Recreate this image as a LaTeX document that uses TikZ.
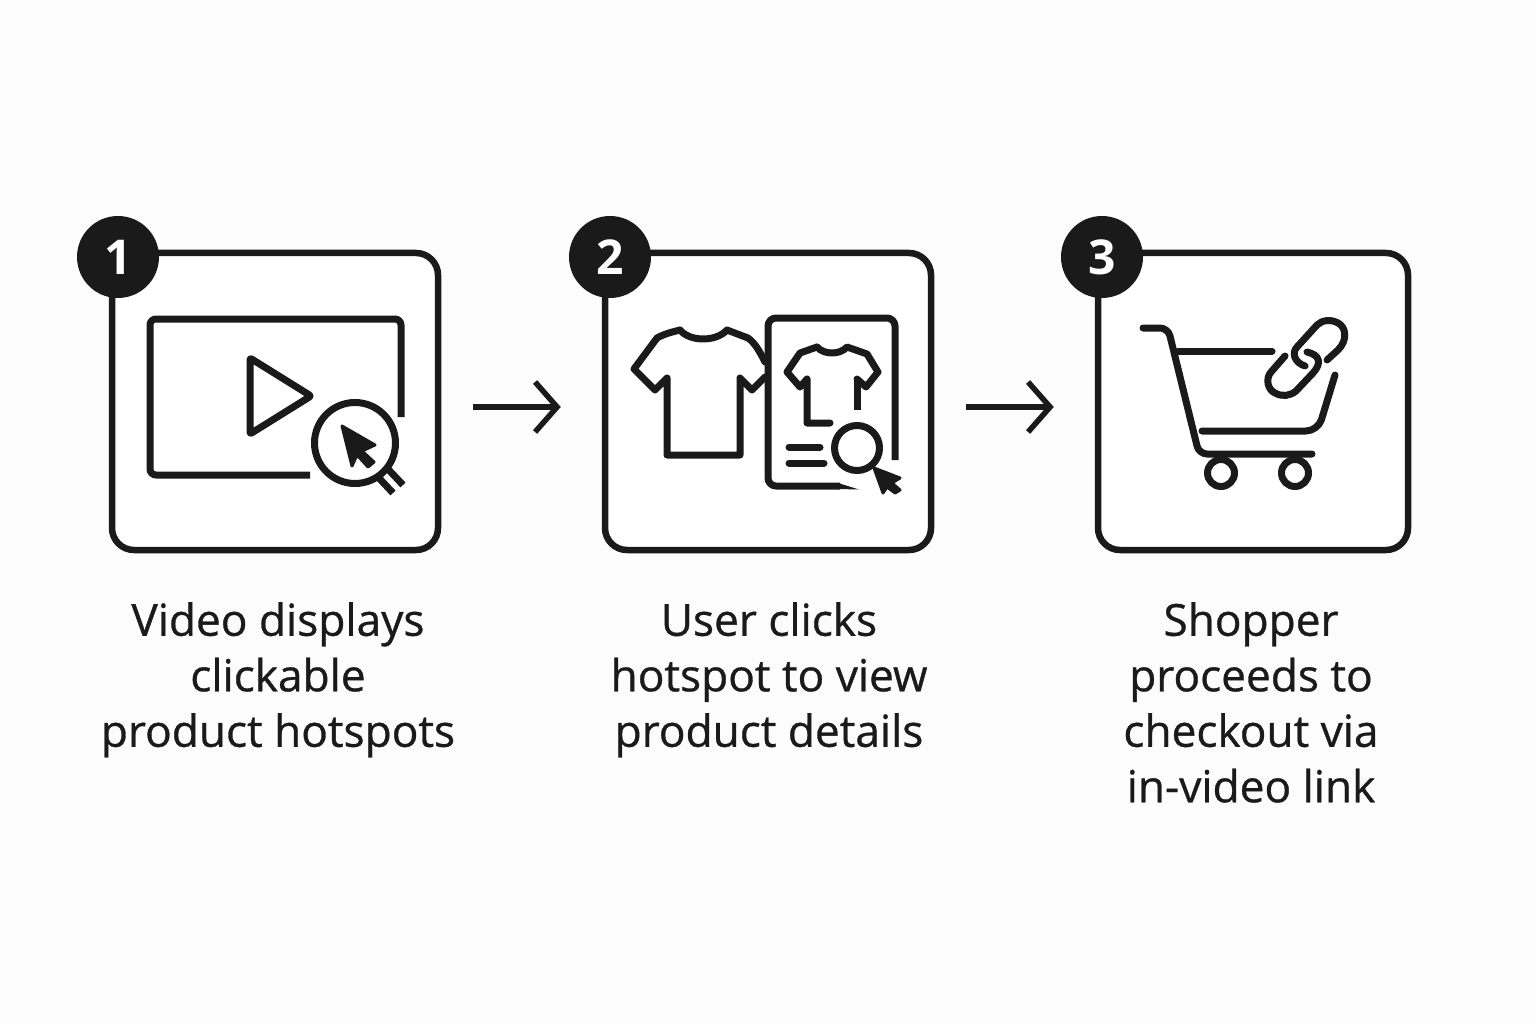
\documentclass[tikz,border=0pt]{standalone}
\usepackage{fontspec}
\setmainfont{Open Sans}
\newfontfamily\capfont[RawFeature={embolden=0.7}]{Open Sans}
\usetikzlibrary{arrows.meta}
\definecolor{ink}{HTML}{1A1A1A}
\definecolor{paper}{HTML}{FCFCFC}
\tikzset{
	card/.style={rectangle, draw=ink, fill=white, line width=6.5pt, rounded corners=22pt, inner sep=0pt},
	badge/.style={circle, fill=ink, text=white, minimum size=82pt, inner sep=0pt, font=\fontsize{48}{48}\selectfont\bfseries},
	caption/.style={anchor=north, align=center, inner sep=0pt, text=ink, font=\capfont\fontsize{44.2}{55.5}\selectfont},
	icon/.style={draw=ink, line width=7pt, line cap=round, line join=round},
	flow/.style={draw=ink, line width=5.5pt, -{Straight Barb[length=22pt,width=50pt,line width=5.5pt]}, shorten <=32pt, shorten >=41pt},
}
\begin{document}
\begin{tikzpicture}[x=1pt, y=-1pt]
	\fill[paper] (0,0) rectangle (1536,1024);
	\useasboundingbox (0,0) rectangle (1536,1024);

	\node[card, minimum width=326pt, minimum height=297pt] (cardA) at (275,401.5) {};
	\node[card, minimum width=326pt, minimum height=297pt] (cardB) at (768,401.5) {};
	\node[card, minimum width=310pt, minimum height=297pt] (cardC) at (1253,401.5) {};

	\node[badge] (badgeA) at (118,257) {1};
	\node[badge] (badgeB) at (610,257) {2};
	\node[badge] (badgeC) at (1102,257) {3};

	\draw[flow] ([yshift=-5.5pt]cardA.east) -- ([yshift=-5.5pt]cardB.west);
	\draw[flow] ([yshift=-5.5pt]cardB.east) -- ([yshift=-5.5pt]cardC.west);

	\node[caption] (textA) at (278,602) {Video displays\\clickable\\product hotspots};
	\node[caption] (textB) at (769,602) {User clicks\\hotspot to view\\product details};
	\node[caption] (textC) at (1251,602) {Shopper\\proceeds to\\checkout via\\in-video link};

	\draw[icon, line cap=butt, rounded corners=6pt] (401,417) -- (401,319) -- (150,319) -- (150,475) -- (310,475);
	\draw[icon, rounded corners=2pt] (250,358) -- (311,396) -- (250,434) -- cycle;
	\draw[icon] (355,443) circle[radius=40.5];
	\draw[icon, line cap=butt] (387,468) -- (403,485);
	\draw[icon, line cap=butt] (378,477) -- (393,493);
	\filldraw[ink, line width=3pt, line join=round] (342,426) -- (375,445) -- (362,451) -- (374,462) -- (368,467) -- (357,455) -- (352,466) -- cycle;

	\draw[icon] (680,330) .. controls (690,342) and (716,342) .. (727,330) -- (748,338) .. controls (755,343) and (760,352) .. (765,362);
	\draw[icon] (765,377) -- (752,390) -- (740,378) -- (740,455) -- (667,455) -- (667,378) -- (655,390) -- (634,369) -- (657,338) .. controls (664,334) and (672,332) .. (680,330);

	\draw[icon, line cap=butt, rounded corners=8pt] (895,460) -- (895,318) -- (768,318) -- (768,486) -- (840,486);
	\fill[ink] (838,483) -- (859,489.5) -- (838,489) -- cycle;
	\draw[icon] (817,347) .. controls (824,355) and (840,355) .. (847,347) -- (867,354) -- (878,372) -- (866,387) -- (857,379);
	\draw[icon, line cap=butt] (857,379) -- (857,410);
	\draw[icon] (817,347) -- (800,353) -- (787,372) -- (800,387) -- (807,379) -- (807,423) -- (830,423);
	\draw[icon] (789,447) -- (820,447);
	\draw[icon] (789,463) -- (824,463);
	\draw[icon] (857,448) circle[radius=22.5];
	\filldraw[ink, line width=3pt, line join=round] (874,468) -- (900,478) -- (892,483) -- (900,490) -- (895,493) -- (887,487) -- (883,493) -- cycle;

	\draw[icon, rounded corners=8pt] (1143,328) -- (1168,328) -- (1199,454) -- (1312,454);
	\draw[icon] (1178,351) -- (1272,351);
	\draw[icon, rounded corners=12pt] (1202,431) -- (1318,431) -- (1335,375);
	\foreach \x in {1221,1295} {
		\draw[icon] (\x,473) circle[radius=13.5];
	}
	\draw[icon] (1327,360) -- (1338,350) .. controls (1348,340) and (1346,327) .. (1338,323) .. controls (1331,319) and (1322,320) .. (1317,325) -- (1297,347) .. controls (1291,353) and (1295,363) .. (1305,366);
	\draw[icon] (1285,356) -- (1271,372) .. controls (1265,379) and (1268,390) .. (1275,393) .. controls (1282,397) and (1290,396) .. (1296,391) -- (1313,373) .. controls (1322,363) and (1320,355) .. (1307,352);
\end{tikzpicture}
\end{document}
